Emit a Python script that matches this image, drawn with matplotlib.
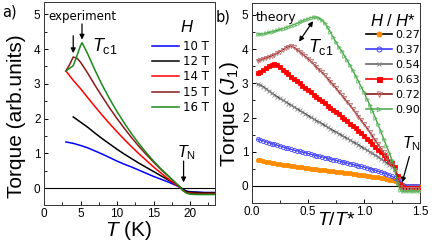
import numpy as np
import matplotlib
matplotlib.use("Agg")
import matplotlib.pyplot as plt
from matplotlib.lines import Line2D
from matplotlib.ticker import MultipleLocator

plt.rcParams['font.family'] = ['Liberation Sans', 'DejaVu Sans']
plt.rcParams['mathtext.fontset'] = 'custom'
plt.rcParams['mathtext.rm'] = 'Liberation Sans'
plt.rcParams['mathtext.it'] = 'Liberation Sans:italic'

# ---------------- Panel a: experiment ----------------
fields_a = ['10 T', '12 T', '14 T', '15 T', '16 T']
T_10 = [3, 4, 5, 6, 7, 8, 9, 10, 11, 12, 13, 14, 15, 16, 17, 18, 18.5, 19, 19.5, 20, 21, 22, 23.4]
tq_10 = [1.33, 1.29, 1.23, 1.16, 1.07, 0.98, 0.88, 0.78, 0.69, 0.61, 0.52, 0.43, 0.34, 0.26, 0.18,
         0.09, 0.04, -0.03, -0.08, -0.10, -0.11, -0.12, -0.12]
T_12 = [4, 5, 6, 7, 8, 9, 10, 11, 12, 13, 14, 15, 16, 17, 18, 18.5, 19, 19.5, 20, 21, 22, 23.4]
tq_12 = [2.05, 1.90, 1.75, 1.58, 1.42, 1.27, 1.12, 0.98, 0.85, 0.72, 0.60, 0.48, 0.36, 0.24, 0.12,
         0.06, -0.03, -0.09, -0.11, -0.12, -0.13, -0.13]
T_14 = [3, 4, 5, 6, 7, 8, 9, 10, 11, 12, 13, 14, 15, 16, 17, 18, 18.5, 19, 19.5, 20, 21, 22, 23.4]
tq_14 = [3.37, 3.10, 2.86, 2.60, 2.34, 2.09, 1.85, 1.62, 1.40, 1.19, 0.99, 0.80, 0.61, 0.44, 0.27,
         0.11, 0.04, -0.06, -0.12, -0.14, -0.15, -0.15, -0.15]
T_15 = [3, 3.5, 4, 4.5, 5, 6, 7, 8, 9, 10, 11, 12, 13, 14, 15, 16, 17, 18, 18.5, 19, 19.5, 20, 21, 22, 23.4]
tq_15 = [3.37, 3.55, 3.77, 3.74, 3.62, 3.30, 2.95, 2.62, 2.30, 2.00, 1.72, 1.45, 1.20, 0.97, 0.75,
         0.54, 0.35, 0.15, 0.05, -0.06, -0.13, -0.15, -0.16, -0.16, -0.16]
T_16 = [3, 4, 4.5, 5, 5.2, 5.5, 6, 7, 8, 9, 10, 11, 12, 13, 14, 15, 16, 17, 18, 18.5, 19, 19.5, 20,
        21, 22, 23.4]
tq_16 = [3.37, 3.52, 3.80, 4.10, 4.18, 4.06, 3.85, 3.38, 2.95, 2.56, 2.20, 1.87, 1.56, 1.28, 1.02,
         0.78, 0.56, 0.36, 0.16, 0.06, -0.06, -0.14, -0.17, -0.18, -0.18, -0.18]

# ---------------- Panel b: theory ----------------
ratios_b = ['0.27', '0.37', '0.54', '0.63', '0.72', '0.90']
t_b = np.round(np.arange(0.05, 1.5001, 0.025), 3)
tq_027 = [0.77, 0.75, 0.73, 0.71, 0.70, 0.68, 0.67, 0.65, 0.64, 0.62,
          0.61, 0.60, 0.58, 0.57, 0.56, 0.55, 0.54, 0.53, 0.52, 0.51,
          0.50, 0.49, 0.48, 0.47, 0.46, 0.45, 0.44, 0.43, 0.42, 0.41,
          0.40, 0.39, 0.38, 0.37, 0.36, 0.35, 0.33, 0.32, 0.31, 0.30,
          0.29, 0.27, 0.26, 0.25, 0.23, 0.22, 0.20, 0.18, 0.16, 0.13,
          0.09, 0.04, 0.01, 0.00, 0.00, 0.00, 0.00, 0.00, 0.00]
tq_037 = [1.37, 1.34, 1.32, 1.29, 1.27, 1.24, 1.22, 1.19, 1.17, 1.14,
          1.12, 1.10, 1.07, 1.05, 1.03, 1.01, 0.99, 0.97, 0.95, 0.93,
          0.91, 0.89, 0.87, 0.85, 0.83, 0.81, 0.79, 0.77, 0.75, 0.73,
          0.71, 0.69, 0.67, 0.65, 0.63, 0.61, 0.59, 0.57, 0.55, 0.53,
          0.51, 0.48, 0.46, 0.43, 0.41, 0.38, 0.35, 0.32, 0.28, 0.23,
          0.17, 0.09, 0.03, 0.01, 0.00, 0.00, 0.00, 0.00, 0.00]
tq_054 = [2.97, 2.95, 2.90, 2.84, 2.78, 2.72, 2.66, 2.61, 2.56, 2.51,
          2.46, 2.41, 2.36, 2.31, 2.26, 2.21, 2.16, 2.11, 2.06, 2.01,
          1.96, 1.91, 1.87, 1.82, 1.77, 1.72, 1.67, 1.62, 1.58, 1.53,
          1.48, 1.43, 1.39, 1.34, 1.29, 1.25, 1.20, 1.15, 1.10, 1.05,
          1.00, 0.95, 0.90, 0.85, 0.79, 0.74, 0.68, 0.62, 0.56, 0.50,
          0.30, 0.05, -0.03, -0.04, -0.04, -0.04, -0.04, -0.04, -0.04]
tq_063 = [3.30, 3.34, 3.39, 3.45, 3.50, 3.54, 3.57, 3.55, 3.48, 3.40,
          3.33, 3.26, 3.19, 3.13, 3.06, 3.00, 2.93, 2.87, 2.80, 2.74,
          2.67, 2.61, 2.54, 2.48, 2.42, 2.35, 2.29, 2.22, 2.16, 2.09,
          2.02, 1.96, 1.89, 1.82, 1.75, 1.68, 1.61, 1.54, 1.46, 1.38,
          1.30, 1.22, 1.14, 1.06, 0.98, 0.90, 0.82, 0.74, 0.66, 0.56,
          0.30, 0.05, -0.03, -0.05, -0.05, -0.05, -0.05, -0.05, -0.05]
tq_072 = [3.65, 3.68, 3.71, 3.74, 3.77, 3.80, 3.84, 3.88, 3.93, 3.98,
          4.03, 4.07, 4.09, 4.05, 3.99, 3.93, 3.86, 3.79, 3.72, 3.64,
          3.56, 3.48, 3.40, 3.32, 3.23, 3.14, 3.05, 2.96, 2.86, 2.76,
          2.66, 2.56, 2.46, 2.36, 2.25, 2.14, 2.03, 1.92, 1.81, 1.70,
          1.58, 1.46, 1.34, 1.22, 1.10, 0.98, 0.86, 0.74, 0.62, 0.48,
          0.20, -0.02, -0.08, -0.08, -0.08, -0.08, -0.08, -0.08, -0.08]
tq_090 = [4.45, 4.44, 4.45, 4.47, 4.49, 4.51, 4.53, 4.55, 4.58, 4.60,
          4.63, 4.66, 4.69, 4.72, 4.75, 4.79, 4.83, 4.86, 4.89, 4.92,
          4.94, 4.94, 4.90, 4.84, 4.76, 4.64, 4.50, 4.35, 4.20, 4.06,
          3.95, 3.81, 3.67, 3.53, 3.38, 3.22, 3.06, 2.90, 2.74, 2.55,
          2.38, 2.20, 2.00, 1.80, 1.60, 1.38, 1.18, 0.97, 0.76, 0.48,
          0.10, -0.12, -0.16, -0.15, -0.15, -0.15, -0.15, -0.15, -0.15]

# ---------------- styles ----------------
colors_a = ['#0000ff', '#000000', '#ff0000', '#8b1a1a', '#1a8a1a']
line_b = ['#ff8c00', '#3a3aff', '#111111', '#ff0000', '#8b1a1a', '#3a9a3a']
leg_line_b = ['#000000', '#3a3aff', '#666666', '#ff0000', '#8b1a1a', '#55aa55']
mk_b = ['o', 'o', 'x', 's', 'v', '>']
mfc_b = ['#ff8c00', 'none', '#888888', '#ff0000', 'none', 'none']
mec_b = ['#ff8c00', '#4a4aff', '#888888', '#ff0000', '#c07070', '#66bb66']
ms_b = [3.0, 3.0, 2.4, 3.0, 3.0, 2.6]

W, H = 436, 243
fig = plt.figure(figsize=(W / 100, H / 100), dpi=100)


def box(l, r, b, t):
    return [l / W, 1 - b / H, (r - l) / W, (b - t) / H]


axa = fig.add_axes(box(44, 215, 205, 2))
axb = fig.add_axes(box(252, 420, 202.7, 3))

for ax in (axa, axb):
    ax.tick_params(direction='in', which='both', top=False, right=False,
                   labelsize=8.5, pad=2.5)
    ax.tick_params(which='major', length=3, width=0.7)
    ax.tick_params(which='minor', length=2, width=0.6)
    for s in ax.spines.values():
        s.set_linewidth(0.7)
        s.set_color('#333333')
    ax.axhline(0, color='k', lw=0.8, zorder=1)
    ax.yaxis.set_major_locator(MultipleLocator(1))
    ax.yaxis.set_minor_locator(MultipleLocator(0.5))

# panel a
series_a = [(T_10, tq_10), (T_12, tq_12), (T_14, tq_14), (T_15, tq_15), (T_16, tq_16)]
for (tt, yy), c, lab in zip(series_a, colors_a, fields_a):
    axa.plot(tt, yy, color=c, lw=1.1, label=lab, zorder=3)
axa.set_xlim(0, 23.4)
axa.set_ylim(-0.48, 5.35)
axa.xaxis.set_major_locator(MultipleLocator(5))
axa.xaxis.set_minor_locator(MultipleLocator(2.5))
axa.set_xlabel(r'$T$ (K)', fontsize=15)
axa.set_ylabel('Torque (arb.units)', fontsize=15)
axa.xaxis.set_label_coords(0.494, -0.069)
axa.yaxis.set_label_coords(-0.105, 0.438)

axa.legend(loc='upper left', bbox_to_anchor=(0.632, 0.814), frameon=False,
           prop={'family': 'DejaVu Sans', 'size': 8.5},
           handlelength=2.3, handletextpad=0.3, labelspacing=0.2, borderpad=0,
           borderaxespad=0)
axa.text(0.835, 0.875, r'$H$', transform=axa.transAxes, fontsize=12, ha='center', va='center')
axa.text(5.3, 4.92, 'experiment', fontsize=8.5, family='DejaVu Sans', ha='center', va='center')
axa.text(6.6, 3.95, r'$T_{\rm c1}$', fontsize=13, ha='left', va='baseline')
axa.text(18.2, 0.9, r'$T_{\rm N}$', fontsize=11.5, ha='left', va='baseline')
ap = dict(arrowstyle='-|>', color='k', lw=0.9, mutation_scale=7, shrinkA=0, shrinkB=0)
axa.annotate('', xy=(4.0, 3.88), xytext=(4.0, 4.38), arrowprops=ap)
axa.annotate('', xy=(5.2, 4.27), xytext=(5.2, 4.72), arrowprops=ap)
axa.annotate('', xy=(19.1, 0.17), xytext=(19.1, 0.78), arrowprops=ap)

# panel b
series_b = [tq_027, tq_037, tq_054, tq_063, tq_072, tq_090]
for i, yy in enumerate(series_b):
    axb.plot(t_b, yy, color=line_b[i], lw=0.9, marker=mk_b[i], ms=ms_b[i],
             mfc=mfc_b[i], mec=mec_b[i], mew=0.6, zorder=3 + i)
axb.set_xlim(0, 1.5)
axb.set_ylim(-0.49, 5.35)
axb.xaxis.set_major_locator(MultipleLocator(0.5))
axb.xaxis.set_minor_locator(MultipleLocator(0.25))
axb.xaxis.set_major_formatter(matplotlib.ticker.FormatStrFormatter('%.1f'))
axb.set_xlabel(r'$T/T$*', fontsize=14)
axb.set_ylabel(r'Torque ($J_1$)', fontsize=15)
axb.xaxis.set_label_coords(0.503, -0.047)
axb.yaxis.set_label_coords(-0.065, 0.442)

handles = [Line2D([], [], color=leg_line_b[i], lw=1.2, marker=mk_b[i], ms=ms_b[i] + 0.6,
                  mfc=mfc_b[i], mec=mec_b[i], mew=0.7) for i in range(6)]
axb.legend(handles, ratios_b, loc='upper left', bbox_to_anchor=(0.679, 0.864), frameon=False,
           prop={'family': 'DejaVu Sans', 'size': 8}, numpoints=1,
           handlelength=2.3, handletextpad=0.3, labelspacing=0.45, borderpad=0, borderaxespad=0)
axb.text(0.84, 0.91, r'$H\ /\ H$*', transform=axb.transAxes, fontsize=12, ha='center', va='center')
axb.text(0.03, 4.93, 'theory', fontsize=9, family='DejaVu Sans', ha='left', va='center')
axb.text(0.5, 3.92, r'$T_{\rm c1}$', fontsize=13, ha='left', va='baseline')
axb.text(1.34, 1.1, r'$T_{\rm N}$', fontsize=11.5, ha='left', va='baseline')
ap2 = dict(arrowstyle='<|-|>', color='k', lw=0.9, mutation_scale=7, shrinkA=0, shrinkB=0)
axb.annotate('', xy=(0.42, 4.22), xytext=(0.545, 4.82), arrowprops=ap2)
axb.annotate('', xy=(1.34, 0.1), xytext=(1.405, 0.86), arrowprops=ap)

fig.text(2 / W, 1 - 12 / H, 'a)', fontsize=10.5, family='DejaVu Sans', ha='left', va='center')
fig.text(216 / W, 1 - 17 / H, 'b)', fontsize=10.5, family='DejaVu Sans', ha='left', va='center')

fig.savefig('out.png', dpi=100)
